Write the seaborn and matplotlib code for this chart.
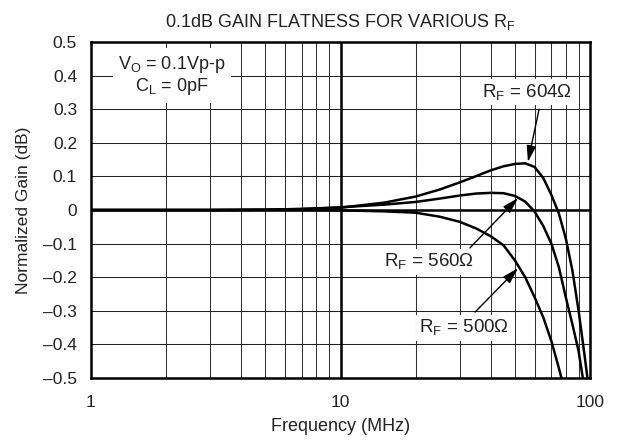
import matplotlib
matplotlib.use("Agg")
import matplotlib.pyplot as plt
import seaborn as sns
import pandas as pd

# ---- data ----
freq_mhz = [1, 2, 3, 5, 7, 10, 15, 20, 25, 30, 35, 40, 45, 50, 55, 60, 65, 70, 75, 80, 85, 90, 95, 100]
gain_604 = [0, 0, 0, 0.001, 0.003, 0.007, 0.022, 0.040, 0.061, 0.082, 0.101, 0.118, 0.130, 0.137, 0.139,
            0.128, 0.095, 0.045, -0.010, -0.085, -0.180, -0.300, -0.430, -0.560]
gain_560 = [0, 0, 0, 0.001, 0.003, 0.008, 0.016, 0.024, 0.034, 0.043, 0.049, 0.051, 0.050, 0.042, 0.025,
            -0.005, -0.048, -0.100, -0.170, -0.260, -0.340, -0.420, -0.530, -0.650]
gain_500 = [0, 0, 0, 0, 0, -0.001, -0.004, -0.008, -0.020, -0.035, -0.055, -0.078, -0.105, -0.150, -0.200,
            -0.260, -0.320, -0.390, -0.470, -0.550, -0.650, -0.760, -0.880, -1.000]
series_names = ["604", "560", "500"]
y_ticks = [-0.5, -0.4, -0.3, -0.2, -0.1, 0, 0.1, 0.2, 0.3, 0.4, 0.5]
y_tick_labels = ["\u20130.5", "\u20130.4", "\u20130.3", "\u20130.2", "\u20130.1", "0", "0.1", "0.2", "0.3", "0.4", "0.5"]
x_ticks = [1, 10, 100]
x_tick_labels = ["1", "10", "100"]
title = "0.1dB GAIN FLATNESS FOR VARIOUS R$_\\mathregular{F}$"
x_label = "Frequency (MHz)"
y_label = "Normalized Gain (dB)"
cond_text = "V$_\\mathregular{O}$ = 0.1Vp-p\nC$_\\mathregular{L}$ = 0pF"
labels_rf = ["R$_\\mathregular{F}$ = 604\u03a9", "R$_\\mathregular{F}$ = 560\u03a9", "R$_\\mathregular{F}$ = 500\u03a9"]

rows = []
for name, g in zip(series_names, [gain_604, gain_560, gain_500]):
    for f, v in zip(freq_mhz, g):
        rows.append({"freq": f, "gain": v, "rf": name})
df = pd.DataFrame(rows)

sns.set_style("white")
plt.rcParams["font.family"] = ["Liberation Sans", "DejaVu Sans"]
plt.rcParams["mathtext.fontset"] = "custom"
plt.rcParams["mathtext.rm"] = "Liberation Sans"

fig = plt.figure(figsize=(6.2, 4.41), dpi=100)
ax = fig.add_axes([91 / 620, 1 - 378 / 441, (590 - 91) / 620, (378 - 42) / 441])

sns.lineplot(data=df, x="freq", y="gain", hue="rf", palette=["black"] * 3,
             legend=False, linewidth=1.8, ax=ax, zorder=5, estimator=None, sort=True)

ax.set_xscale("log")
ax.set_xlim(1, 100)
ax.set_ylim(-0.5, 0.5)

# grid
minor = [m * d for d in (1, 10) for m in range(2, 10)]
for xv in minor:
    ax.axvline(xv, color="#333333", lw=0.75, zorder=1)
ax.axvline(10, color="black", lw=1.8, zorder=2)
for yv in y_ticks:
    if yv == 0:
        ax.axhline(0, color="black", lw=1.8, zorder=2)
    else:
        ax.axhline(yv, color="#222222", lw=0.75, zorder=1)

ax.set_xticks(x_ticks)
ax.set_xticklabels(x_tick_labels)
ax.set_xticks([], minor=True)
ax.set_yticks(y_ticks)
ax.set_yticklabels(y_tick_labels)
ax.tick_params(axis="both", length=0, labelsize=12.5, colors="#222222")
ax.tick_params(axis="y", pad=10)
ax.tick_params(axis="x", pad=12)
for s in ax.spines.values():
    s.set_linewidth(1.8)
    s.set_color("black")
    s.set_zorder(6)

ax.set_xlabel(x_label, fontsize=13, color="#222222", labelpad=6)
ax.set_ylabel(y_label, fontsize=12.5, color="#222222", labelpad=9)
ax.set_title(title, fontsize=13, color="#222222", pad=11)

box = dict(facecolor="white", edgecolor="none", pad=2)
ax.text(2.11, 0.40, cond_text, ha="center", va="center", fontsize=13, color="#222222",
        bbox=dict(facecolor="white", edgecolor="none", pad=4), zorder=4, linespacing=1.1)

arrow = dict(arrowstyle="-|>,head_length=0.7,head_width=0.2", color="black", lw=1.0,
             mutation_scale=14, shrinkA=0, shrinkB=0)
ax.text(56.0, 0.35, labels_rf[0], ha="center", va="center", fontsize=13.5, color="#222222",
        bbox=box, zorder=4)
ax.annotate("", xy=(56.4, 0.143), xytext=(62.5, 0.30), arrowprops=arrow, zorder=7)

ax.text(22.6, -0.155, labels_rf[1], ha="center", va="center", fontsize=13.5, color="#222222",
        bbox=box, zorder=4)
ax.annotate("", xy=(51.5, 0.036), xytext=(33.0, -0.113), arrowprops=arrow, zorder=7)

ax.text(31.3, -0.35, labels_rf[2], ha="center", va="center", fontsize=13.5, color="#222222",
        bbox=box, zorder=4)
ax.annotate("", xy=(51.5, -0.173), xytext=(34.6, -0.304), arrowprops=arrow, zorder=7)

fig.savefig("out.png", dpi=100)
